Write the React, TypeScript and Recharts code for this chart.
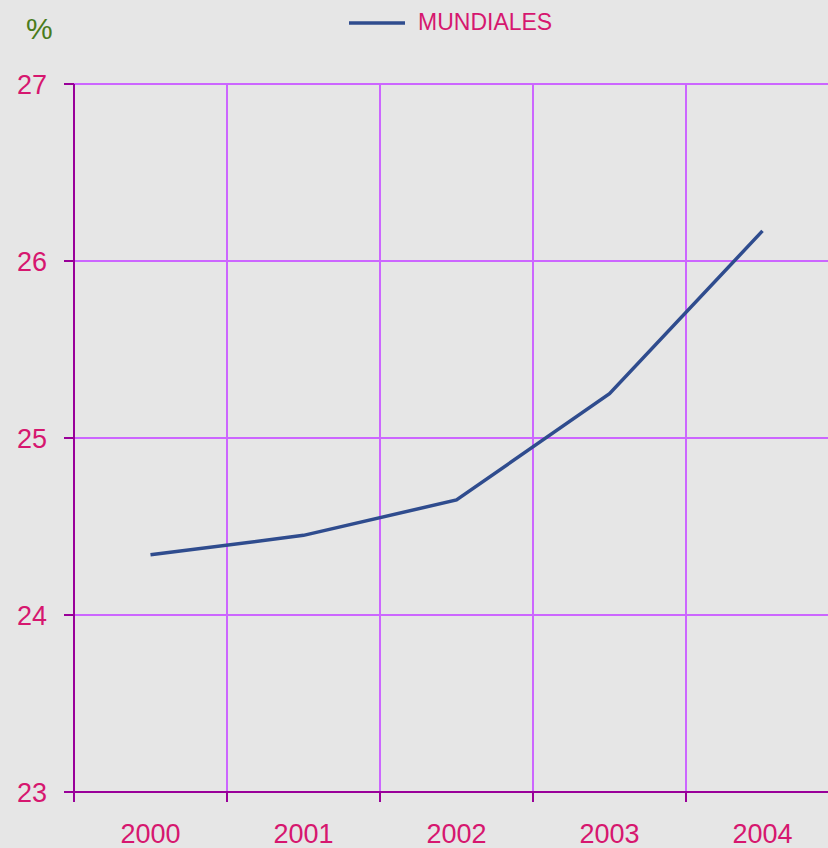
import { LineChart, Line, XAxis, YAxis, CartesianGrid } from 'recharts';

const years = [2000, 2001, 2002, 2003, 2004];
const mundiales = [24.34, 24.45, 24.65, 25.25, 26.17];
const yTicks = [23, 24, 25, 26, 27];
const bandEdges = [1999.5, 2000.5, 2001.5, 2002.5, 2003.5, 2004.5];

const data = years.map((y, i) => ({ year: y, mundiales: mundiales[i] }));

const PINK = '#d6176f';
const AXIS = '#990099';
const GRID = '#cc66ff';
const LINE = '#2f4c8e';
const FONT = '"Liberation Sans", Arial, sans-serif';

export default function App() {
  return (
    <div
      style={{
        position: 'fixed',
        top: 0,
        left: 0,
        width: 828,
        height: 848,
        overflow: 'hidden',
        background: '#e6e6e6',
      }}
    >
      <div style={{ position: 'absolute', left: 26, top: 12, color: '#4a7c1c', fontSize: 30, fontFamily: FONT }}>%</div>
      <div
        style={{
          position: 'absolute',
          left: 349,
          top: 9,
          display: 'flex',
          alignItems: 'center',
          fontFamily: FONT,
        }}
      >
        <svg width={56} height={6} style={{ marginRight: 13 }}>
          <line x1={0} y1={3} x2={56} y2={3} stroke={LINE} strokeWidth={3.5} />
        </svg>
        <span style={{ color: PINK, fontSize: 23 }}>MUNDIALES</span>
      </div>
      <LineChart width={839} height={848} data={data} margin={{ top: 84, right: 0, left: 0, bottom: 0 }}>
        <CartesianGrid stroke={GRID} strokeWidth={2} />
        <XAxis
          dataKey="year"
          type="number"
          domain={[1999.5, 2004.5]}
          ticks={bandEdges}
          tickFormatter={() => ''}
          tickSize={10}
          height={12}
          stroke={AXIS}
          strokeWidth={2}
          allowDataOverflow
        />
        <XAxis
          xAxisId="labels"
          dataKey="year"
          type="number"
          domain={[1999.5, 2004.5]}
          ticks={years}
          axisLine={false}
          tickLine={false}
          tickSize={0}
          tickMargin={20}
          height={44}
          tick={{ fill: PINK, fontSize: 27, fontFamily: FONT }}
        />
        <YAxis
          domain={[23, 27]}
          ticks={yTicks}
          width={74}
          tickSize={10}
          tickMargin={17}
          stroke={AXIS}
          strokeWidth={2}
          tick={{ fill: PINK, fontSize: 27, fontFamily: FONT }}
        />
        <Line
          dataKey="mundiales"
          name="MUNDIALES"
          stroke={LINE}
          strokeWidth={3.5}
          dot={false}
          type="linear"
          isAnimationActive={false}
        />
      </LineChart>
    </div>
  );
}
